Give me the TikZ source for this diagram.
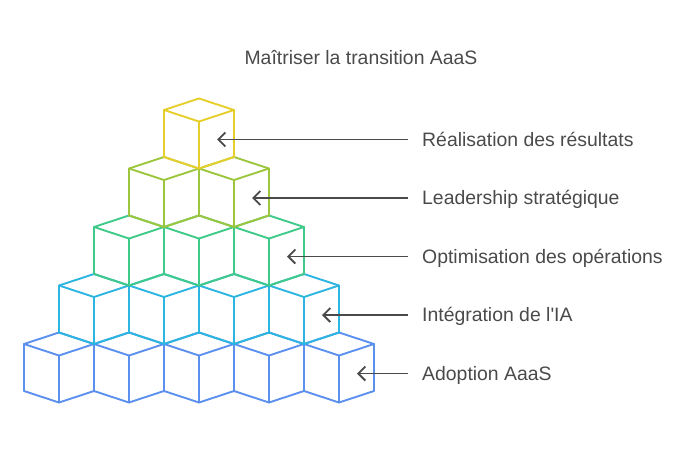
\documentclass[tikz,border=0pt]{standalone}
\usepackage{fontspec}
\setmainfont{Liberation Sans}[Ligatures=TeXOff]
\usetikzlibrary{arrows.meta}
\definecolor{cY}{HTML}{E6CF2C}
\definecolor{cYG}{HTML}{9CC63E}
\definecolor{cG}{HTML}{3FCA8A}
\definecolor{cC}{HTML}{2BB5E0}
\definecolor{cB}{HTML}{5C90EE}
\definecolor{txt}{HTML}{4A4A4A}
\definecolor{arrc}{HTML}{4A4A4A}
\tikzset{
  cubeline/.style={line width=1.9pt, line join=round, line cap=round},
  lbl/.style={anchor=base west, inner sep=0pt, text=txt, font=\fontsize{19.4}{23}\selectfont},
  arr/.style={draw=arrc, line width=1.9pt, -{Straight Barb[length=7pt,width=14pt,line width=1.9pt]}}
}
\begin{document}
\begin{tikzpicture}[x=1pt,y=-1pt]
\useasboundingbox (0,0) rectangle (700,450);
\foreach \r/\col in {0/cB,1/cC,2/cG,3/cYG,4/cY}{
  \pgfmathtruncatemacro\n{4-\r}
  \pgfmathsetmacro\ly{344-58.5*\r}
  \foreach \k in {0,...,\n}{
    \pgfmathsetmacro\lx{24+35*\r+70*\k}
    \draw[cubeline,\col] (\lx,\ly) -- ++(35,-11.5) -- ++(35,11.5) -- ++(0,47) -- ++(-35,11.5) -- ++(-35,-11.5) -- cycle;
    \draw[cubeline,\col] (\lx,\ly) -- ++(35,11.5) -- ++(35,-11.5);
    \draw[cubeline,\col] (\lx+35,\ly+11.5) -- ++(0,47);
  }
  \pgfmathsetmacro\ty{\ly+29.5}
  \coordinate (tip\r) at (304-35*\r+53,\ty);
  \coordinate (s\r) at (408,\ty);
}
\node[anchor=center, inner sep=0pt, text=txt, font=\fontsize{19.4}{23}\selectfont] (title) at (361,58) {Maîtriser la transition AaaS};
\node[lbl] (l4) at ([xshift=14pt,yshift=-6.9pt]s4) {Réalisation des résultats};
\node[lbl] (l3) at ([xshift=14pt,yshift=-6.9pt]s3) {Leadership stratégique};
\node[lbl] (l2) at ([xshift=14pt,yshift=-6.9pt]s2) {Optimisation des opérations};
\node[lbl] (l1) at ([xshift=14pt,yshift=-6.9pt]s1) {Intégration de l'IA};
\node[lbl] (l0) at ([xshift=14pt,yshift=-6.9pt]s0) {Adoption AaaS};
\foreach \r in {0,...,4}{
  \draw[arr] (s\r) -- (tip\r);
}
\end{tikzpicture}
\end{document}
